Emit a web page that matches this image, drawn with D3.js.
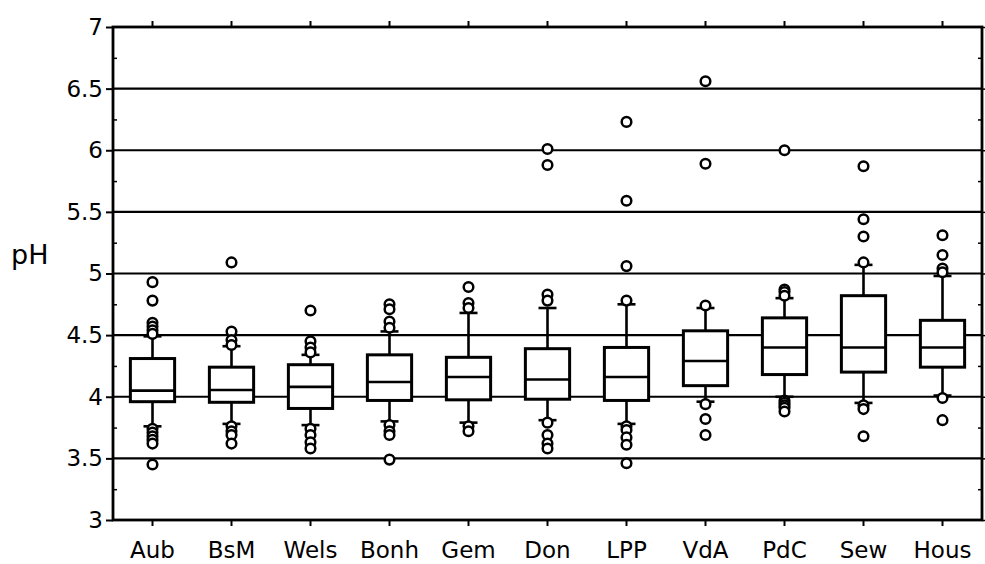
<!DOCTYPE html>
<html>
<head>
<meta charset="utf-8">
<script src="https://cdn.jsdelivr.net/npm/d3@7"></script>
<style>
  html, body { margin: 0; padding: 0; background: #fff; }
  svg { display: block; }
  .tick text { font-family: "DejaVu Sans", Verdana, sans-serif; fill: #000; }
</style>
</head>
<body>
<svg id="chart" width="985" height="564"></svg>
<script>
// Sampling sites and pH summary statistics per site
const categories = ["Aub", "BsM", "Wels", "Bonh", "Gem", "Don", "LPP", "VdA", "PdC", "Sew", "Hous"];
const q1          = [3.96, 3.955, 3.905, 3.97, 3.975, 3.98, 3.97, 4.09, 4.18, 4.20, 4.24];
const medians     = [4.05, 4.055, 4.08, 4.12, 4.16, 4.14, 4.16, 4.29, 4.40, 4.40, 4.40];
const q3          = [4.31, 4.24, 4.26, 4.34, 4.32, 4.39, 4.40, 4.535, 4.64, 4.82, 4.62];
const whiskerLow  = [3.76, 3.78, 3.77, 3.80, 3.79, 3.81, 3.78, 3.96, 4.00, 3.95, 4.01];
const whiskerHigh = [4.49, 4.41, 4.34, 4.53, 4.68, 4.72, 4.75, 4.72, 4.80, 5.07, 4.98];
const outliers = [
  [4.93, 4.78, 4.60, 4.57, 4.54, 4.51, 3.74, 3.71, 3.68, 3.65, 3.62, 3.45],
  [5.09, 4.53, 4.46, 4.42, 3.76, 3.72, 3.69, 3.62],
  [4.70, 4.45, 4.40, 4.36, 3.74, 3.69, 3.63, 3.58],
  [4.75, 4.71, 4.61, 4.56, 3.77, 3.72, 3.69, 3.49],
  [4.89, 4.76, 4.72, 3.76, 3.72],
  [6.01, 5.88, 4.83, 4.78, 3.79, 3.69, 3.62, 3.58],
  [6.23, 5.59, 5.06, 4.78, 3.76, 3.73, 3.67, 3.61, 3.46],
  [6.56, 5.89, 4.74, 3.94, 3.82, 3.69],
  [6.00, 4.87, 4.85, 4.82, 3.97, 3.95, 3.93, 3.91, 3.88],
  [5.87, 5.44, 5.30, 5.09, 3.93, 3.90, 3.68],
  [5.31, 5.15, 5.04, 5.01, 3.99, 3.81]
];
const yTickValues = [3, 3.5, 4, 4.5, 5, 5.5, 6, 6.5, 7];
const yTickLabels = ["3", "3.5", "4", "4.5", "5", "5.5", "6", "6.5", "7"];
const yMinorTicks = [3.25, 3.75, 4.25, 4.75, 5.25, 5.75, 6.25, 6.75];
const yLabel = "pH";

const svg = d3.select("#chart");
const plotLeft = 113, plotRight = 982, plotTop = 27, plotBottom = 520;

const x = d3.scaleBand().domain(categories).range([plotLeft, plotRight]).padding(0);
const y = d3.scaleLinear().domain([3, 7]).range([plotBottom, plotTop]);
const cx = c => x(c) + x.bandwidth() / 2;
const boxW = x.bandwidth() * 0.56;
const capW = 18;

const rows = categories.map((c, i) => ({
  c, q1: q1[i], med: medians[i], q3: q3[i],
  lo: whiskerLow[i], hi: whiskerHigh[i], out: outliers[i]
}));

// horizontal grid lines at the labelled ticks
svg.append("g")
  .selectAll("line")
  .data(yTickValues.filter(v => v > 3 && v < 7))
  .join("line")
  .attr("x1", plotLeft).attr("x2", plotRight)
  .attr("y1", d => y(d)).attr("y2", d => y(d))
  .attr("stroke", "#000").attr("stroke-width", 2.2);

// axes
const yAxis = d3.axisLeft(y).tickValues(yTickValues)
  .tickFormat((d, i) => yTickLabels[i]).tickSize(7).tickPadding(3);
const gy = svg.append("g").attr("transform", `translate(${plotLeft},0)`).call(yAxis);
gy.select(".domain").remove();
gy.selectAll(".tick line").attr("stroke", "#000").attr("stroke-width", 2);
gy.selectAll(".tick text").attr("font-size", 23);

svg.append("g").attr("transform", `translate(${plotLeft},0)`)
  .call(d3.axisRight(y).tickValues(yMinorTicks).tickSize(4).tickFormat(""))
  .call(g => g.select(".domain").remove())
  .selectAll(".tick line").attr("stroke", "#000").attr("stroke-width", 1.5);

svg.append("g").attr("transform", `translate(${plotRight},0)`)
  .call(d3.axisRight(y).tickValues(yTickValues).tickSize(3).tickFormat(""))
  .call(g => g.select(".domain").remove())
  .selectAll(".tick line").attr("stroke", "#000").attr("stroke-width", 1.5);
svg.append("g").attr("transform", `translate(${plotRight},0)`)
  .call(d3.axisLeft(y).tickValues(yMinorTicks).tickSize(4).tickFormat(""))
  .call(g => g.select(".domain").remove())
  .selectAll(".tick line").attr("stroke", "#000").attr("stroke-width", 1.5);

const gx = svg.append("g").attr("transform", `translate(0,${plotBottom})`)
  .call(d3.axisBottom(x).tickSize(6).tickPadding(16));
gx.select(".domain").remove();
gx.selectAll(".tick line").attr("stroke", "#000").attr("stroke-width", 2);
gx.selectAll(".tick text").attr("font-size", 23);

const gt = svg.append("g").attr("transform", `translate(0,${plotTop})`)
  .call(d3.axisTop(x).tickSize(6).tickFormat(""));
gt.select(".domain").remove();
gt.selectAll(".tick line").attr("stroke", "#000").attr("stroke-width", 2);

// plot frame
svg.append("rect")
  .attr("x", plotLeft).attr("y", plotTop)
  .attr("width", plotRight - plotLeft).attr("height", plotBottom - plotTop)
  .attr("fill", "none").attr("stroke", "#000").attr("stroke-width", 2.8);

// y axis title
svg.append("text")
  .attr("x", 11).attr("y", 264)
  .attr("font-family", "DejaVu Sans, Verdana, sans-serif")
  .attr("font-size", 27)
  .text(yLabel);

// boxes
const g = svg.append("g").selectAll("g").data(rows).join("g");

g.append("line")
  .attr("x1", d => cx(d.c)).attr("x2", d => cx(d.c))
  .attr("y1", d => y(d.lo)).attr("y2", d => y(d.hi))
  .attr("stroke", "#000").attr("stroke-width", 2.6);

g.selectAll(".cap").data(d => [d.lo, d.hi].map(v => ({ c: d.c, v })))
  .join("line").attr("class", "cap")
  .attr("x1", d => cx(d.c) - capW / 2).attr("x2", d => cx(d.c) + capW / 2)
  .attr("y1", d => y(d.v)).attr("y2", d => y(d.v))
  .attr("stroke", "#000").attr("stroke-width", 2.6);

g.append("rect")
  .attr("x", d => cx(d.c) - boxW / 2).attr("width", boxW)
  .attr("y", d => y(d.q3)).attr("height", d => y(d.q1) - y(d.q3))
  .attr("fill", "#fff").attr("stroke", "#000").attr("stroke-width", 3);

g.append("line")
  .attr("x1", d => cx(d.c) - boxW / 2).attr("x2", d => cx(d.c) + boxW / 2)
  .attr("y1", d => y(d.med)).attr("y2", d => y(d.med))
  .attr("stroke", "#000").attr("stroke-width", 2.6);

g.selectAll("circle").data(d => d.out.map(v => ({ c: d.c, v })))
  .join("circle")
  .attr("cx", d => cx(d.c)).attr("cy", d => y(d.v)).attr("r", 4.8)
  .attr("fill", "#fff").attr("stroke", "#000").attr("stroke-width", 2.5);
</script>
</body>
</html>
